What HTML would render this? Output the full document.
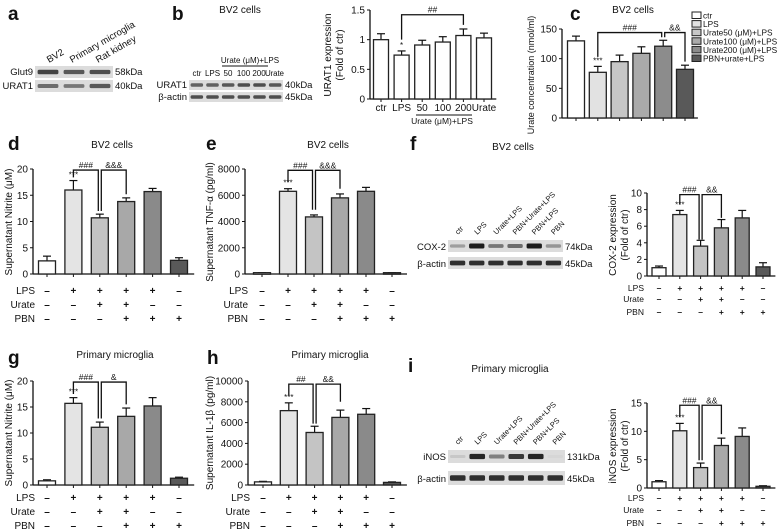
<!DOCTYPE html>
<html><head><meta charset="utf-8">
<style>
html,body{margin:0;padding:0;background:#fff;}
svg{display:block;font-family:"Liberation Sans",Arial,sans-serif;}
</style></head>
<body>
<svg id="fig" width="778" height="531" viewBox="0 0 778 531" xmlns="http://www.w3.org/2000/svg"></svg>
<script>
// ---- data ----
const grpCats=['ctr','LPS','Urate+LPS','PBN+Urate+LPS','PBN+LPS','PBN'];
const rowLPS=['–','+','+','+','+','–'];
const rowUrate=['–','–','+','+','–','–'];
const rowPBN=['–','–','–','+','+','+'];
const bCats=['ctr','LPS','50','100','200','Urate'];
const bVals=[1.0,0.74,0.91,0.96,1.07,1.03];
const bErr=[0.10,0.07,0.08,0.09,0.11,0.08];
const bTicks=[0,0.5,1.0,1.5];
const cCats=['ctr','LPS','Urate50 (μM)+LPS','Urate100 (μM)+LPS','Urate200 (μM)+LPS','PBN+urate+LPS'];
const cVals=[130,77,95,109,121,82];
const cErr=[8,10,11,11,10,7];
const cTicks=[0,50,100,150];
const dVals=[2.5,16.0,10.7,13.8,15.7,2.6];
const dErr=[0.9,1.8,0.7,0.7,0.6,0.5];
const dTicks=[0,5,10,15,20];
const eVals=[100,6300,4350,5800,6300,100];
const eErr=[0,200,150,300,300,0];
const eTicks=[0,2000,4000,6000,8000];
const fVals=[1.0,7.4,3.6,5.8,7.0,1.1];
const fErr=[0.2,0.5,0.7,1.0,0.9,0.5];
const fTicks=[0,2,4,6,8,10];
const gVals=[0.8,15.7,11.1,13.2,15.2,1.3];
const gErr=[0.2,1.1,1.0,1.6,1.6,0.2];
const hVals=[300,7150,5050,6500,6800,250];
const hErr=[50,750,600,700,550,50];
const hTicks=[0,2000,4000,6000,8000,10000];
const iVals=[1.1,10.1,3.6,7.5,9.1,0.3];
const iErr=[0.2,1.3,0.8,1.3,1.5,0.1];
const iTicks=[0,5,10,15];
const fBand=[0.3,0.95,0.5,0.55,0.95,0.35];
const iBand=[0.1,0.9,0.45,0.8,0.9,0.03];
const grpColors=['#ffffff','#e4e4e4','#c4c4c4','#a8a8a8','#8a8a8a','#595959'];
const cColors=['#ffffff','#e2e2e2','#c6c6c6','#aaaaaa','#8c8c8c','#595959'];

const NS='http://www.w3.org/2000/svg';
const svg=document.getElementById('fig');
function el(tag,attrs,parent,txt){const e=document.createElementNS(NS,tag);for(const k in attrs)e.setAttribute(k,attrs[k]);if(txt!==undefined)e.textContent=txt;(parent||svg).appendChild(e);return e;}
function txt(x,y,s,size,anchor,parent,weight,rot){const a={x:x,y:y,'font-size':size,'text-anchor':anchor||'middle',fill:'#111'};if(weight)a['font-weight']=weight;if(rot)a.transform='rotate('+rot+' '+x+' '+y+')';return el('text',a,parent,s);}

function chart(name,o){
  const g=el('g',{});
  
  
  const max=o.ticks[o.ticks.length-1];
  const Y=v=>o.y0-v/max*(o.y0-o.yTop);
  const X=i=>o.c0+i*o.step;
  const n=o.vals.length;
  el('line',{x1:o.x0,y1:o.y0,x2:o.x0,y2:o.yTop,stroke:'#111','stroke-width':1.3},g);
  el('line',{x1:o.x0,y1:o.y0,x2:X(n-1)+o.step/2+2,y2:o.y0,stroke:'#111','stroke-width':1.3},g);
  o.ticks.forEach(t=>{el('line',{x1:o.x0-3,y1:Y(t),x2:o.x0,y2:Y(t),stroke:'#111'},g);
    const tl=txt(o.x0-5,Y(t)+3.5,String(t),o.fs||10,'end',g);
    });
  o.vals.forEach((v,i)=>{
    el('line',{x1:X(i),y1:o.y0,x2:X(i),y2:o.y0+3,stroke:'#111'},g);
    const top=Y(v+o.err[i]);
    el('line',{x1:X(i),y1:Y(v),x2:X(i),y2:top,stroke:'#111','stroke-width':1.2},g);
    el('line',{x1:X(i)-4,y1:top,x2:X(i)+4,y2:top,stroke:'#111','stroke-width':1.2},g);
    const r=el('rect',{x:X(i)-o.bw/2,y:Y(v),width:o.bw,height:Math.max(o.y0-Y(v),1.5),fill:o.colors[i],stroke:'#222','stroke-width':1.3},g);
    
    
  });
  if(o.star){const i=o.star;txt(X(i),Y(o.vals[i]+o.err[i])-3,o.starTxt||'***',8,'middle',g);}
  (o.sig||[]).forEach(s=>{
    const [a,b,lvl,lab,dl,dr]=s;
    const xa=X(a)+(s[6]||0), xb=X(b)+(s[7]||0), yt=Y(lvl);
    el('polyline',{points:xa+','+Y(dl)+' '+xa+','+yt+' '+xb+','+yt+' '+xb+','+Y(dr),fill:'none',stroke:'#111','stroke-width':1.3},g);
    txt((xa+xb)/2,yt-2,lab,8.5,'middle',g);
  });
  if(o.rows){
    const rows=[['LPS',rowLPS],['Urate',rowUrate],['PBN',rowPBN]];
    rows.forEach((r,k)=>{
      const y=o.rowY[k];
      const l=txt(o.rowX,y,r[0],o.rfs||10,'end',g);
      
      r[1].forEach((s,i)=>txt(X(i),y,s,o.rfs||10,'middle',g,'bold'));
    });
  }
  if(o.ytitle){o.ytitle.forEach((t,k)=>{const yt=txt(o.ytx[k],o.yty,t,o.yfs||10,'middle',g,null,-90);});}
  return {X,Y,g};
}

function blot(name,x,y,w,h,bands,n){
  const g=el('g',{});
  
  
  el('rect',{x:x,y:y,width:w,height:h,fill:'#dcdcdc'},g);
  const sw=w/n;
  bands.forEach((b,i)=>{
    const bh=h*0.22+b*h*0.2;
    el('rect',{x:x+i*sw+sw*0.1,y:y+h/2-bh/2,width:sw*0.8,height:bh,rx:1.5,fill:'#111','fill-opacity':b},g);
  });
  return g;
}

// panel letters
[['a',8,20],['b',172,20],['c',570,20],['d',8,150],['e',206,150],['f',410,150],['g',8,364],['h',207,364],['i',408,372]].forEach(p=>{
  const t=txt(p[1],p[2],p[0],19,'start',null,'bold');
  
  
});

// titles
[['BV2 cells',240,13],['BV2 cells',633,13],['BV2 cells',112,148],['BV2 cells',328,148],['BV2 cells',513,150],['Primary microglia',115,358],['Primary microglia',330,358],['Primary microglia',510,372]].forEach(p=>{
  const t=txt(p[1],p[2],p[0],10);
  
  
});

// panel a blot
blot('blot-a-glut9',35,66,78,12,[0.75,0.65,0.7],3);
blot('blot-a-urat1',35,80,78,12,[0.55,0.5,0.65],3);
txt(33,75,'Glut9',9.5,'end');txt(33,89,'URAT1',9.5,'end');
txt(115,75,'58kDa',9.5,'start');txt(115,89,'40kDa',9.5,'start');
txt(49,63,'BV2',9.5,'start',null,null,-30);
txt(72,63,'Primary microglia',9.5,'start',null,null,-30);
txt(98,63,'Rat kidney',9.5,'start',null,null,-30);

// panel b blot
blot('blot-b-urat1',189,80,94,10,[0.6,0.6,0.65,0.7,0.7,0.65],6);
blot('blot-b-actin',189,92,94,10,[0.7,0.7,0.7,0.7,0.7,0.7],6);
txt(187,88,'URAT1',9.5,'end');txt(187,100,'β-actin',9.5,'end');
txt(285,88,'40kDa',9.5,'start');txt(285,100,'45kDa',9.5,'start');
['ctr','LPS','50','100','200','Urate'].forEach((s,i)=>{const t=txt(197+i*15.5,76,s,8,'middle');if(s==='Urate')t.setAttribute('textLength','19');});
txt(250,63,'Urate (μM)+LPS',8,'middle');
el('line',{x1:222,y1:66,x2:268,y2:66,stroke:'#111'});

// panel b chart
const cb=chart('chart-b-urat1',{x0:370,y0:99,yTop:10,ticks:bTicks,vals:bVals,err:bErr,colors:['#fff','#fff','#fff','#fff','#fff','#fff'],c0:381,step:20.6,bw:15,
  star:1,starTxt:'*',sig:[[1,4,1.42,'##',1.0,1.25]],ytitle:['URAT1 expression','(Fold of ctr)'],ytx:[331,343],yty:55});
bCats.forEach((c,i)=>txt(cb.X(i),111,c,10,'middle'));
txt(442,124,'Urate (μM)+LPS',8.5,'middle');
el('line',{x1:416,y1:115,x2:472,y2:115,stroke:'#111'});

// panel c chart
chart('chart-c-urate',{x0:562,y0:118,yTop:29,ticks:cTicks,vals:cVals,err:cErr,colors:cColors,c0:576,step:21.8,bw:17,
  star:1,sig:[[1,4,144,'###',103,136,0,-1.5],[4,5,144,'&&',136,95,1.5,0]],
  ytitle:['Urate concentration (nmol/ml)'],ytx:[534],yty:75,yfs:9});
cCats.forEach((c,i)=>{
  const y=12+i*8.6;
  const r=el('rect',{x:692,y:y,width:9,height:6.5,fill:cColors[i],stroke:'#222'});
  
  const t=txt(703,y+6.5,c,8.3,'start');
  
});

// panel d
chart('chart-d-nitrite',{x0:33,y0:274,yTop:169,ticks:dTicks,vals:dVals,err:dErr,colors:grpColors,c0:47,step:26.4,bw:17,
  star:1,sig:[[1,2,19.8,'###',18.4,12.0,0,-1.5],[2,3,19.8,'&&&',12.0,15.2,1.5,0]],rows:true,rowX:35,rowY:[294,308,322],
  ytitle:['Supernatant Nitrite (μM)'],ytx:[12],yty:222});
// panel e
chart('chart-e-tnf',{x0:245,y0:274,yTop:169,ticks:eTicks,vals:eVals,err:eErr,colors:grpColors,c0:262,step:26,bw:17,
  star:1,sig:[[1,2,7900,'###',7000,4900,0,-1.5],[2,3,7900,'&&&',4900,6500,1.5,0]],rows:true,rowX:248,rowY:[294,308,322],
  ytitle:['Supernatant TNF-α (pg/ml)'],ytx:[213],yty:222});
// panel f blot
blot('blot-f-cox2',448,240,115,12,fBand,6);
blot('blot-f-actin',448,257,115,12,[0.85,0.85,0.85,0.85,0.85,0.85],6);
txt(446,250,'COX-2',9.5,'end');txt(446,267,'β-actin',9.5,'end');
txt(565,250,'74kDa',9.5,'start');txt(565,267,'45kDa',9.5,'start');
grpCats.forEach((s,i)=>{const t=txt(458+i*19.2,235,s,7.5,'start',null,null,-45);});
// panel f chart
chart('chart-f-cox2',{x0:647,y0:276,yTop:193,ticks:fTicks,vals:fVals,err:fErr,colors:grpColors,c0:659,step:20.8,bw:14,fs:10,
  star:1,sig:[[1,2,9.8,'###',8.6,4.4,0,-1.5],[2,3,9.8,'&&',4.4,7.0,1.5,0]],rows:true,rowX:644,rowY:[291,302,315],rfs:8.5,
  ytitle:['COX-2 expression','(Fold of ctr)'],ytx:[616,628],yty:235});
// panel g
chart('chart-g-nitrite',{x0:33,y0:485,yTop:381,ticks:dTicks,vals:gVals,err:gErr,colors:grpColors,c0:47,step:26.4,bw:17,
  star:1,sig:[[1,2,19.8,'###',17.5,12.8,0,-1.5],[2,3,19.8,'&',12.8,15.5,1.5,0]],rows:true,rowX:35,rowY:[501,515,529],
  ytitle:['Supernatant Nitrite (μM)'],ytx:[12],yty:433});
// panel h
chart('chart-h-il1b',{x0:248,y0:485,yTop:381,ticks:hTicks,vals:hVals,err:hErr,colors:grpColors,c0:263,step:25.8,bw:17,
  star:1,sig:[[1,2,9700,'##',8600,5900,0,-1.5],[2,3,9700,'&&',5900,8000,1.5,0]],rows:true,rowX:250,rowY:[501,515,529],
  ytitle:['Supernatant IL-1β (pg/ml)'],ytx:[213],yty:433});
// panel i blot
blot('blot-i-inos',448,450,117,13,iBand,6);
blot('blot-i-actin',448,471,117,14,[0.85,0.85,0.85,0.85,0.85,0.85],6);
txt(446,460,'iNOS',9.5,'end');txt(446,482,'β-actin',9.5,'end');
txt(567,460,'131kDa',9.5,'start');txt(567,482,'45kDa',9.5,'start');
grpCats.forEach((s,i)=>{const t=txt(458+i*19.5,445,s,7.5,'start',null,null,-45);});
// panel i chart
chart('chart-i-inos',{x0:647,y0:488,yTop:403,ticks:iTicks,vals:iVals,err:iErr,colors:grpColors,c0:659,step:20.8,bw:14,
  star:1,sig:[[1,2,14.6,'###',12.5,4.9,0,-1.5],[2,3,14.6,'&&',4.9,9.5,1.5,0]],rows:true,rowX:644,rowY:[501,513,526],rfs:8.5,
  ytitle:['iNOS expression','(Fold of ctr)'],ytx:[616,628],yty:446});
</script>
</body></html>
